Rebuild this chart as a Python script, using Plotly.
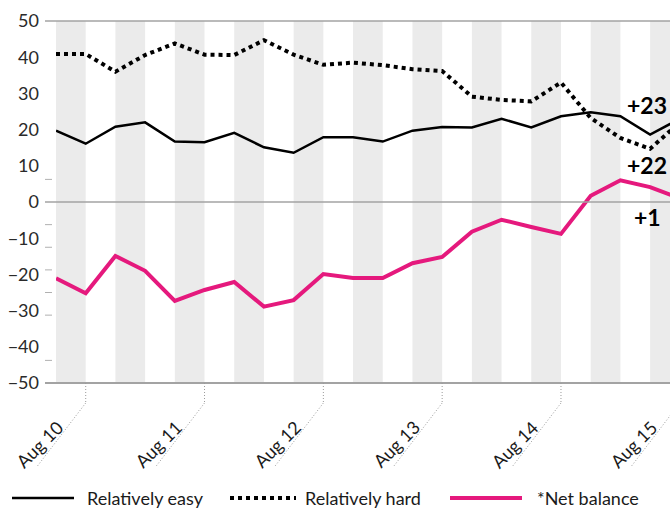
import plotly.graph_objects as go

# Quarterly survey periods
quarters = [
    "May 10", "Aug 10", "Nov 10", "Feb 11", "May 11", "Aug 11", "Nov 11", "Feb 12",
    "May 12", "Aug 12", "Nov 12", "Feb 13", "May 13", "Aug 13", "Nov 13", "Feb 14",
    "May 14", "Aug 14", "Nov 14", "Feb 15", "May 15", "Aug 15",
]

# Share of respondents (%)
relatively_easy = [19.7, 16.1, 20.8, 22.0, 16.7, 16.5, 19.1, 15.1, 13.6, 17.9, 17.9,
                   16.7, 19.7, 20.7, 20.6, 23.0, 20.6, 23.7, 24.8, 23.7, 18.6, 23]
relatively_hard = [40.9, 40.9, 36.0, 40.6, 43.8, 40.7, 40.6, 44.7, 40.7, 37.9, 38.5,
                   37.8, 36.7, 36.2, 29.1, 28.2, 27.8, 33.0, 23.2, 17.7, 14.7, 22]
net_balance = [-21.1, -25.2, -14.9, -19.0, -27.3, -24.3, -22.1, -28.9, -27.1, -19.9, -21.0,
               -21.0, -16.9, -15.2, -8.2, -4.9, -6.9, -8.8, 1.7, 6.0, 4.1, 1]

y_ticks = [50, 40, 30, 20, 10, 0, -10, -20, -30, -40, -50]
minor_marks = [6.25, -6.25, -12.5, -18.75, -25, -31.25, -43.75]

FONT = "Lato"
PINK = "#e5197d"
BAND = "#ebebeb"
RULE = "#a3a3a3"

W, H = 670, 510
ML, MR, MT, MB = 56, 0, 21, 127
PW, PH = W - ML - MR, H - MT - MB
X_LO, X_HI = 0, 20.67


def px_x(i):
    return (i - X_LO) / (X_HI - X_LO)


def px_y(pix):
    # pixel row -> paper y
    return (H - MB - pix) / PH


fig = go.Figure()

fig.add_trace(go.Scatter(x=quarters, y=relatively_easy, mode="lines", name="Relatively easy",
                         line=dict(color="#000000", width=2.5)))
fig.add_trace(go.Scatter(x=quarters, y=relatively_hard, mode="lines", name="Relatively hard",
                         line=dict(color="#000000", width=4, dash="4px,4px")))
fig.add_trace(go.Scatter(x=quarters, y=net_balance, mode="lines", name="*Net balance",
                         line=dict(color=PINK, width=4)))

shapes = []
# alternating quarter bands
for k in range(0, len(quarters), 2):
    shapes.append(dict(type="rect", xref="x", yref="y", x0=k, x1=k + 1, y0=-50, y1=50,
                       fillcolor=BAND, line_width=0, layer="below"))

# top, zero and bottom rules
lead = -11 / PW
shapes.append(dict(type="line", xref="paper", yref="paper", x0=lead, x1=1, y0=1, y1=1,
                   line=dict(color=RULE, width=1.5)))
shapes.append(dict(type="line", xref="paper", yref="y", x0=lead, x1=1, y0=0, y1=0,
                   line=dict(color=RULE, width=1.5)))
shapes.append(dict(type="line", xref="paper", yref="paper", x0=lead, x1=1, y0=0, y1=0,
                   line=dict(color=RULE, width=2)))
for v in minor_marks:
    shapes.append(dict(type="line", xref="paper", yref="y", x0=lead, x1=-4 / PW, y0=v, y1=v,
                       line=dict(color="#b0b0b0", width=1)))

annotations = []
# slanted date labels with dotted leaders
for i, q in enumerate(quarters):
    if not q.startswith("Aug"):
        continue
    xp = px_x(i)
    shapes.append(dict(type="line", xref="paper", yref="paper", x0=xp, x1=xp,
                       y0=0, y1=px_y(403), line=dict(color="#9a9a9a", width=1, dash="1px,2px")))
    shapes.append(dict(type="line", xref="paper", yref="paper", x0=xp, x1=xp - 49 / PW,
                       y0=px_y(403), y1=px_y(467), line=dict(color="#9a9a9a", width=1, dash="1px,2px")))
    annotations.append(dict(text=q, xref="paper", yref="paper", x=xp, y=px_y(444),
                            xshift=-46, textangle=-45, showarrow=False,
                            xanchor="center", yanchor="middle",
                            font=dict(family=FONT, size=18, color="#1a1a1a")))

# latest values
last = len(quarters) - 1
for series, dy in ((relatively_easy, 14), (relatively_hard, -43), (net_balance, -19)):
    annotations.append(dict(text=f"{series[last]:+d}", xref="x", yref="y",
                            x=quarters[last - 1], y=series[last], xshift=-3, yshift=dy,
                            showarrow=False, xanchor="center", yanchor="middle",
                            font=dict(family=FONT, size=23, color="#000000", weight="bold")))

# legend row
leg_y = px_y(498)
legend_items = [
    (12, 74, dict(color="#000000", width=2.5), 85, "Relatively easy"),
    (230, 296, dict(color="#000000", width=4, dash="4px,4px"), 303, "Relatively hard"),
    (450, 522, dict(color=PINK, width=4), 535, "*Net balance"),
]
for x0, x1, ln, tx, label in legend_items:
    shapes.append(dict(type="line", xref="paper", yref="paper",
                       x0=(x0 - ML) / PW, x1=(x1 - ML) / PW, y0=leg_y, y1=leg_y, line=ln))
    annotations.append(dict(text=label, xref="paper", yref="paper", x=(tx - ML) / PW, y=leg_y,
                            showarrow=False, xanchor="left", yanchor="middle",
                            font=dict(family=FONT, size=18, color="#1a1a1a")))

fig.update_layout(
    width=W, height=H,
    margin=dict(l=ML, r=MR, t=MT, b=MB),
    paper_bgcolor="white", plot_bgcolor="white",
    showlegend=False,
    shapes=shapes, annotations=annotations,
    xaxis=dict(type="category", range=[X_LO, X_HI], showgrid=False, zeroline=False,
               showticklabels=False, ticks="", showline=False),
    yaxis=dict(range=[-50, 50], tickvals=y_ticks, showgrid=False, zeroline=False,
               ticks="", showline=False, ticklabelstandoff=16,
               tickfont=dict(family=FONT, size=18, color="#2a2a2a")),
    hovermode=False,
)

fig.write_html("out.html")
